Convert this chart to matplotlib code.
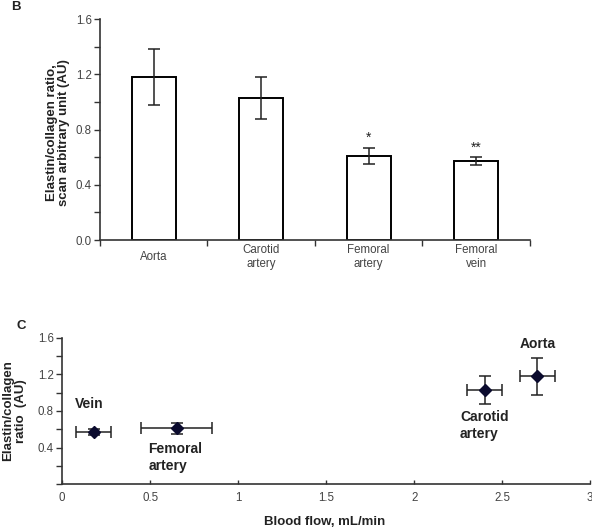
import numpy as np
import matplotlib
matplotlib.use('Agg')
import matplotlib.pyplot as plt

plt.rcParams['font.family'] = ['Liberation Sans', 'DejaVu Sans']

# panel B data
tissues = ['Aorta', 'Carotid\nartery', 'Femoral\nartery', 'Femoral\nvein']
ratio = [1.18, 1.03, 0.61, 0.57]
ratio_err = [0.20, 0.15, 0.06, 0.03]
signif = ['', '', '*', '**']

# panel C data
flow_names = ['Vein', 'Femoral\nartery', 'Carotid\nartery', 'Aorta']
flow = [0.18, 0.65, 2.40, 2.70]
flow_err = [0.10, 0.20, 0.10, 0.10]
flow_ratio = [0.57, 0.61, 1.03, 1.18]
flow_ratio_err = [0.03, 0.06, 0.15, 0.20]
label_pos = [(0.07, 0.88), (0.49, 0.29), (2.26, 0.64), (2.60, 1.53)]

axcol = '#333333'
txtcol = '#444444'
tsize = 8.3   # tick label size
lsize = 9.5   # bold axis labels

fig = plt.figure(figsize=(5.92, 5.31), dpi=100)

# ---- panel B ----
ax1 = fig.add_axes([0.169, 0.548, 0.726, 0.416])
x = np.arange(len(tissues))
ax1.bar(x, ratio, width=0.41, color='white', edgecolor='black', linewidth=1.4, zorder=2)
ax1.errorbar(x, ratio, yerr=ratio_err, fmt='none', ecolor='#222222', elinewidth=1.1,
             capsize=4, capthick=1.1, zorder=3)
for i in range(len(tissues)):
    if signif[i]:
        ax1.text(x[i], ratio[i] + ratio_err[i] + 0.02, signif[i], ha='center', va='bottom',
                 fontsize=10, color='#222222')
ax1.set_xlim(-0.5, 3.5)
ax1.set_ylim(0, 1.6)
ax1.set_xticks(np.arange(-0.5, 4, 1.0))
ax1.set_xticklabels([])
ax1.set_xticks(x, tissues, minor=True)
ax1.tick_params(axis='x', which='minor', length=0, pad=12, labelsize=tsize, labelcolor=txtcol)
for lbl in ax1.get_xticklabels(minor=True):
    lbl.set_va('center')
ax1.tick_params(axis='x', which='major', length=4, color=axcol, width=1)
ax1.set_yticks(np.arange(0, 1.61, 0.4))
ax1.set_yticklabels(['%.1f' % v for v in np.arange(0, 1.61, 0.4)])
ax1.set_yticks(np.arange(0.2, 1.6, 0.4), minor=True)
ax1.tick_params(axis='y', which='both', length=4, width=1, color=axcol, pad=2,
                labelsize=tsize, labelcolor=txtcol)
for s in ['top', 'right']:
    ax1.spines[s].set_visible(False)
for s in ['left', 'bottom']:
    ax1.spines[s].set_color(axcol)
    ax1.spines[s].set_linewidth(1.2)

fig.text(0.098, 0.75, 'Elastin/collagen ratio,\nscan arbitrary unit (AU)', rotation=90,
         ha='center', va='center', fontsize=lsize, fontweight='bold', color='#222222',
         multialignment='center', linespacing=1.1)
fig.text(0.018, 0.998, 'B', ha='left', va='top', fontsize=lsize, fontweight='bold', color='#222222')

# ---- panel C ----
ax2 = fig.add_axes([0.105, 0.0885, 0.892, 0.275])
ax2.errorbar(flow, flow_ratio, xerr=flow_err, yerr=flow_ratio_err, fmt='D',
             color='#0b0b2e', markersize=6, ecolor='#222222', elinewidth=1.1,
             capsize=4, capthick=1.1, zorder=3)
for i in range(len(flow_names)):
    ax2.text(label_pos[i][0], label_pos[i][1], flow_names[i], ha='left', va='center',
             fontsize=10, fontweight='bold', color='#222222', linespacing=1.25)
ax2.set_xlim(0, 3)
ax2.set_ylim(0, 1.6)
ax2.set_xticks(np.arange(0, 3.01, 0.5))
ax2.set_xticklabels(['0', '0.5', '1', '1.5', '2', '2.5', '3'])
ax2.tick_params(axis='x', direction='in', length=3, width=1, color=axcol, pad=6,
                labelsize=tsize, labelcolor=txtcol)
ax2.set_yticks(np.arange(0, 1.61, 0.4))
ax2.set_yticklabels(['', '0.4', '0.8', '1.2', '1.6'])
ax2.set_yticks(np.arange(0.2, 1.6, 0.4), minor=True)
ax2.tick_params(axis='y', which='both', length=4, width=1, color=axcol, pad=2,
                labelsize=tsize, labelcolor=txtcol)
for s in ['top', 'right']:
    ax2.spines[s].set_visible(False)
for s in ['left', 'bottom']:
    ax2.spines[s].set_color(axcol)
    ax2.spines[s].set_linewidth(1.2)

fig.text(0.024, 0.226, 'Elastin/collagen\nratio  (AU)', rotation=90, ha='center', va='center',
         fontsize=lsize, fontweight='bold', color='#222222', multialignment='center',
         linespacing=1.1)
fig.text(0.549, 0.017, 'Blood flow, mL/min', ha='center', va='center', fontsize=lsize,
         fontweight='bold', color='#222222')
fig.text(0.028, 0.386, 'C', ha='left', va='center', fontsize=lsize, fontweight='bold', color='#222222')

fig.savefig('out.png', dpi=100)
